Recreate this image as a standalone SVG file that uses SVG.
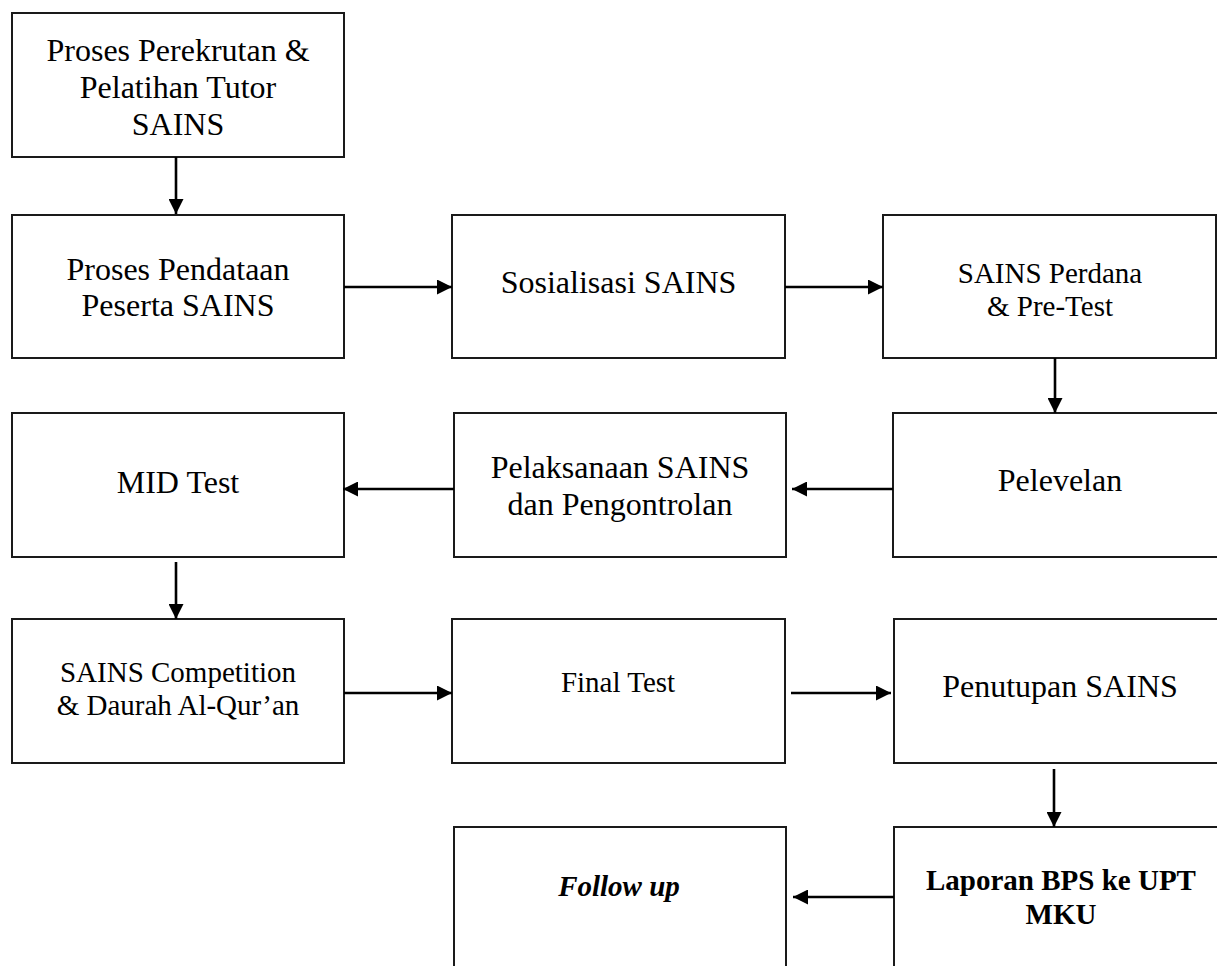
<svg xmlns="http://www.w3.org/2000/svg" width="1217" height="966" viewBox="0 0 1217 966">
<style>
.box{fill:#fff;stroke:#1a1a1a;stroke-width:2}
.t{font-family:"Liberation Serif","Times New Roman",serif;fill:#000;text-anchor:middle}
.l{font-size:32px}
.m{font-size:29px}
.b{font-weight:bold}
.i{font-style:italic}
.c{stroke:#000;stroke-width:2.6;fill:none;marker-end:url(#ah)}
</style>
<defs>
<marker id="ah" markerUnits="userSpaceOnUse" markerWidth="15" markerHeight="15" viewBox="0 0 15 15" refX="15" refY="7.5" orient="auto">
<path d="M0,0 L15,7.5 L0,15 z" fill="#000"/>
</marker>
</defs>
<rect width="1217" height="966" fill="#fff"/>
<g id="n1"><rect class="box" x="12" y="13" width="332" height="144"/>
<text class="t l" x="178" y="61">Proses Perekrutan &amp;</text>
<text class="t l" x="178" y="98">Pelatihan Tutor</text>
<text class="t l" x="178" y="135">SAINS</text></g>
<g id="n2"><rect class="box" x="12" y="215" width="332" height="143"/>
<text class="t l" x="178" y="280">Proses Pendataan</text>
<text class="t l" x="178" y="316">Peserta SAINS</text></g>
<g id="n3"><rect class="box" x="452" y="215" width="333" height="143"/>
<text class="t l" x="618.5" y="293">Sosialisasi SAINS</text></g>
<g id="n4"><rect class="box" x="883" y="215" width="333" height="143"/>
<text class="t m" x="1050" y="283">SAINS Perdana</text>
<text class="t m" x="1050" y="316">&amp; Pre-Test</text></g>
<g id="n5"><rect class="box" x="893" y="413" width="340" height="144"/>
<text class="t l" x="1060" y="491">Pelevelan</text></g>
<g id="n6"><rect class="box" x="454" y="413" width="332" height="144"/>
<text class="t l" x="620" y="478">Pelaksanaan SAINS</text>
<text class="t l" x="620" y="515">dan Pengontrolan</text></g>
<g id="n7"><rect class="box" x="12" y="413" width="332" height="144"/>
<text class="t l" x="178" y="493">MID Test</text></g>
<g id="n8"><rect class="box" x="12" y="619" width="332" height="144"/>
<text class="t m" x="178" y="682">SAINS Competition</text>
<text class="t m" x="178" y="715">&amp; Daurah Al-Qur’an</text></g>
<g id="n9"><rect class="box" x="452" y="619" width="333" height="144"/>
<text class="t m" x="618" y="692">Final Test</text></g>
<g id="n10"><rect class="box" x="894" y="619" width="340" height="144"/>
<text class="t l" x="1060" y="697">Penutupan SAINS</text></g>
<g id="n11"><rect class="box" x="894" y="827" width="340" height="160"/>
<text class="t m b" x="1061" y="890">Laporan BPS ke UPT</text>
<text class="t m b" x="1061" y="924">MKU</text></g>
<g id="n12"><rect class="box" x="454" y="827" width="332" height="160"/>
<text class="t m b i" x="619" y="896">Follow up</text></g>
<g id="connectors">
<line class="c" x1="176" y1="157" x2="176" y2="214"/>
<line class="c" x1="344" y1="287" x2="452" y2="287"/>
<line class="c" x1="785" y1="287" x2="883" y2="287"/>
<line class="c" x1="1055" y1="358" x2="1055" y2="413"/>
<line class="c" x1="893" y1="489" x2="792" y2="489"/>
<line class="c" x1="454" y1="489" x2="343" y2="489"/>
<line class="c" x1="176" y1="562" x2="176" y2="619"/>
<line class="c" x1="344" y1="693" x2="452" y2="693"/>
<line class="c" x1="791" y1="693" x2="891" y2="693"/>
<line class="c" x1="1054" y1="769" x2="1054" y2="827"/>
<line class="c" x1="894" y1="897" x2="793" y2="897"/>
</g>
</svg>
